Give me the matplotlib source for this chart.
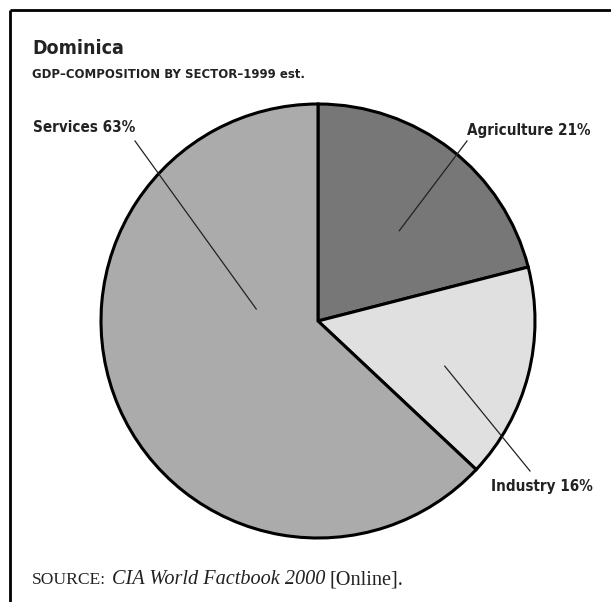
import numpy as np
import matplotlib.pyplot as plt

# GDP composition by sector, Dominica, 1999 est.
sectors = ['Agriculture', 'Industry', 'Services']
shares = [21, 16, 63]
colors = ['#777777', '#e0e0e0', '#ababab']

# label placement (pixels from top-left) and leader-line anchor inside each wedge
label_pos = [(467, 130), (491, 487), (33, 127)]
line_out = [(467, 141), (530, 471), (135, 141)]
line_in = [(0.56, 48.0), (0.62, -19.6), (0.29, 169.0)]   # (radius fraction, angle deg)

W, H = 611, 602
cx, cy, R = 318, 321, 217

bold_cond = dict(family='DejaVu Sans', stretch='condensed', weight='bold', color='#222222')

fig = plt.figure(figsize=(W / 100, H / 100), dpi=100)
ax = fig.add_axes([0, 0, 1, 1])

ax.pie(shares, colors=colors, startangle=90, counterclock=False,
       center=(cx, H - cy), radius=R,
       wedgeprops=dict(edgecolor='black', linewidth=2.2))
ax.set_xlim(0, W)
ax.set_ylim(0, H)
ax.set_aspect('equal')
ax.axis('off')

for name, s, (lx, ly), (ox, oy), (rf, ang) in zip(
        sectors, shares, label_pos, line_out, line_in):
    px = cx + rf * R * np.cos(np.radians(ang))
    py = (H - cy) + rf * R * np.sin(np.radians(ang))
    ax.plot([ox, px], [H - oy, py], color='#222222', lw=0.9)
    ax.text(lx, H - ly, f'{name} {s}%', ha='left', va='center',
            fontsize=10.9, **bold_cond)

# frame: top and left rules only
ax.plot([10, W], [H - 10, H - 10], color='black', lw=2, solid_capstyle='butt')
ax.plot([10, 10], [H - 10, 0], color='black', lw=2, solid_capstyle='butt')

ax.text(32, H - 48, 'Dominica', fontsize=14, va='center', **bold_cond)
ax.text(32, H - 74, 'GDP\u2013COMPOSITION BY SECTOR\u20131999 est.',
        fontsize=9.4, va='center', **bold_cond)

src = ax.text(32, H - 580, 'SOURCE:', family='Liberation Serif', fontsize=12.6,
              va='center', color='#222222')
fig.canvas.draw()
bb = src.get_window_extent()
x1 = ax.transData.inverted().transform((bb.x1, 0))[0]
t2 = ax.text(x1 + 6, H - 580, 'CIA World Factbook 2000', family='Liberation Serif',
             style='italic', fontsize=14.6, va='center', color='#222222')
bb = t2.get_window_extent()
x2 = ax.transData.inverted().transform((bb.x1, 0))[0]
ax.text(x2 + 4, H - 580, '[Online].', family='Liberation Serif', fontsize=14.6,
        va='center', color='#222222')

fig.savefig('out.png', dpi=100)
